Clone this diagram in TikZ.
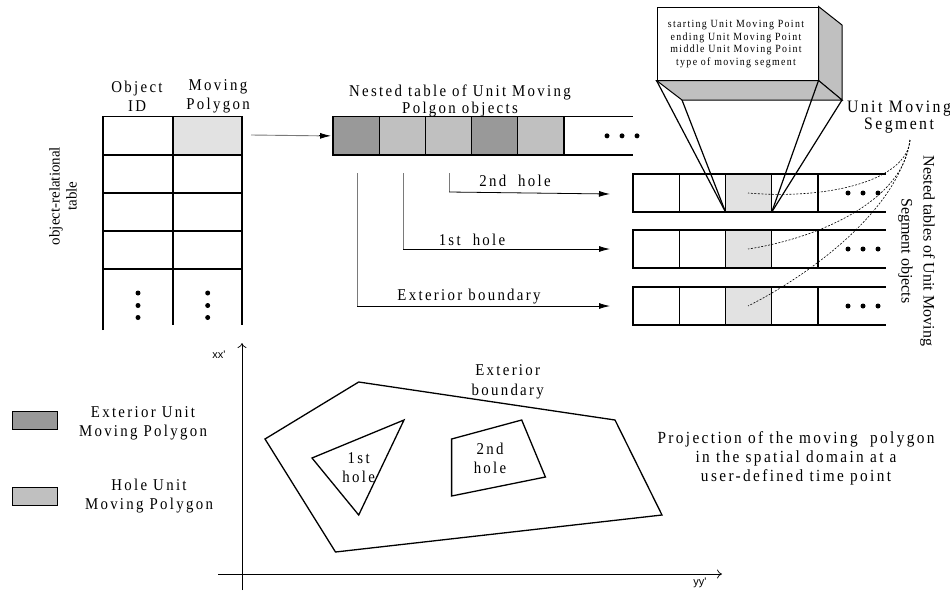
\documentclass[tikz,border=0pt]{standalone}
\usepackage{fontspec}
\setmainfont{Liberation Serif}
\newfontfamily\spf[LetterSpace=14,FakeStretch=0.9]{Liberation Serif}
\newfontfamily\spfb[LetterSpace=14,FakeStretch=0.9]{Liberation Serif}
\newfontfamily\spfs[LetterSpace=12,FakeStretch=0.9]{Liberation Serif}
\newfontfamily\sansf{Liberation Sans}
\usetikzlibrary{arrows.meta}
\definecolor{darkg}{HTML}{999999}
\definecolor{lightg}{HTML}{C0C0C0}
\definecolor{paleg}{HTML}{E2E2E2}
\definecolor{lineg}{HTML}{7A7A7A}
\begin{document}
\begin{tikzpicture}[x=1pt,y=-1pt,
  tbl/.style={line width=1.1pt},
  ncell/.style={draw, line width=1.1pt, minimum width=46.2pt, minimum height=38.3pt, inner sep=0pt, outer sep=0pt},
  rcell/.style={draw, line width=1.1pt, minimum width=46.25pt, minimum height=38pt, inner sep=0pt, outer sep=0pt},
  lbl/.style={font=\spf\fontsize{16.5}{19}\selectfont, align=center, inner sep=0pt},
  small/.style={font=\spfs\fontsize{11}{12.8}\selectfont, align=center, inner sep=0pt},
  plain/.style={font=\fontsize{16}{22}\selectfont, align=center, inner sep=0pt},
  arr/.style={-{Latex[length=11pt,width=6pt]}, line width=0.8pt},
  axis/.style={-{To[length=5pt,width=9pt]}, line width=0.7pt},
  dotf/.style={fill=black, circle, inner sep=0pt, minimum size=5pt},
  dsh/.style={dashed, dash pattern=on 2pt off 1.5pt, line width=0.6pt},
  poly/.style={line width=1.3pt, line join=miter},
  legbox/.style={draw, line width=1pt, minimum width=45pt, minimum height=18pt, inner sep=0pt}
]
\useasboundingbox (0,0) rectangle (950,592);

% ---------- object-relational table ----------
\fill[paleg] (173,116.7) rectangle (242,155);
\draw[tbl] (103,330) -- (103,116.7) -- (242,116.7) -- (242,325);
\draw[tbl] (173,116.7) -- (173,325);
\foreach \y in {155,193,231,269} \draw[tbl] (103,\y) -- (242,\y);
\node[lbl] (hid) at (137,96.5) {Object\\ID};
\node[lbl] (hmp) at (218,96.5) {Moving\\Polygon};
\foreach \x/\n in {138/a,207.7/b} {
  \node[dotf] (d\n1) at (\x,293) {};
  \node[dotf] (d\n2) at (\x,305.5) {};
  \node[dotf] (d\n3) at (\x,317.5) {};
}
\node[plain, font=\fontsize{15}{17}\selectfont, rotate=90] (ortab) at (63,196) {object-relational\\table};

% ---------- nested table of unit moving polygons ----------
\node[lbl, font=\spf\fontsize{16.5}{17}\selectfont] (ntitle) at (460,100.5) {Nested table of Unit Moving\\Polgon objects};
\foreach \i/\c in {1/darkg,2/lightg,3/lightg,4/darkg,5/lightg}
  \node[ncell, fill=\c] (n\i) at ({333+46.2*(\i-0.5)},135.85) {};
\draw[tbl] (n5.north east) -- ++(69,0);
\draw[tbl] (n5.south east) -- ++(69,0);
\node[dotf] (nd1) at (607,135.85) {};
\node[dotf] (nd2) at (622,135.85) {};
\node[dotf] (nd3) at (637,135.85) {};

\coordinate (a0) at (251,135);
\draw[lineg, line width=0.9pt] (a0) -- ([xshift=-12pt]n1.west);
\draw[arr] ([xshift=-14pt]n1.west) -- ([xshift=-2pt]n1.west);

% ---------- nested tables of unit moving segments ----------
\foreach \r/\yy in {1/193,2/249,3/306} {
  \foreach \j in {1,2,3,4} {
    \ifnum\j=3
      \node[rcell, fill=paleg] (r\r\j) at ({633+46.25*(\j-0.5)},\yy) {};
    \else
      \node[rcell] (r\r\j) at ({633+46.25*(\j-0.5)},\yy) {};
    \fi
  }
  \draw[tbl] (r\r4.north east) -- ++(68,0);
  \draw[tbl] (r\r4.south east) -- ++(68,0);
  \node[dotf] (rd\r1) at (848,\yy) {};
  \node[dotf] (rd\r2) at (863,\yy) {};
  \node[dotf] (rd\r3) at (878,\yy) {};
}

% branch arrows
\coordinate (b1) at (357,173); \coordinate (c1) at (357,306);
\coordinate (b2) at (403,173); \coordinate (c2) at (403,249);
\coordinate (b3) at (449,173); \coordinate (c3) at (449,192);
\draw[lineg, line width=0.9pt] (b1) -- (c1);
\draw[lineg, line width=0.9pt] (b2) -- (c2);
\draw[lineg, line width=0.9pt] (b3) -- (c3);
\draw[arr] (c1) -- ([xshift=-23pt]r31.west);
\draw[arr] (c2) -- ([xshift=-23pt]r21.west);
\draw[arr] (c3) -- ([xshift=-23pt,yshift=-1pt]r11.west);
\node[lbl] (l2h) at (515,181) {2nd\ \ hole};
\node[lbl] (l1h) at (472,240) {1st\ \ hole};
\node[lbl] (lex) at (469,297) {Exterior boundary};

% 3D box
\node[draw, line width=1pt, fill=white, minimum width=161pt, minimum height=73pt, inner sep=0pt] (box) at (737.5,43.5) {};
\coordinate (bx1) at (842,25);
\coordinate (bx2) at (842,100);
\coordinate (bx3) at (682,100);
\draw[line width=1pt, fill=lightg] (box.north east) -- (bx1) -- (bx2) -- (box.south east) -- cycle;
\draw[line width=1pt, fill=lightg] (box.south west) -- (box.south east) -- (bx2) -- (bx3) -- cycle;
\node[small] (boxtxt) at (736,44) {starting Unit Moving Point\\ending Unit Moving Point\\middle Unit Moving Point\\type of moving segment};
\draw[line width=1.2pt] (box.south west) -- (r13.south west);
\draw[line width=1.2pt] (bx3) -- (r13.south west);
\draw[line width=1.2pt] (box.south east) -- (r13.south east);
\draw[line width=1.2pt] (bx2) -- (r13.south east);

% Unit Moving Segment label and dashed pointers
\node[lbl, font=\spf\fontsize{17.5}{17.5}\selectfont] (ums) at (899,117) {Unit Moving\\Segment};
\coordinate (up) at (910,140);
\coordinate (m1) at (748,193);
\coordinate (m2) at (748,249);
\coordinate (m3) at (748,306);
\draw[dsh] (up) .. controls (907,180) and (830,200) .. (m1);
\draw[dsh] (up) .. controls (904,200) and (820,238) .. (m2);
\draw[dsh] (up) .. controls (897,215) and (800,280) .. (m3);
\node[plain, rotate=-90] (ntl) at (916.5,251) {Nested tables of Unit Moving\\Segment objects};

% ---------- legend ----------
\node[legbox, fill=darkg] (lg1) at (34.5,420) {};
\node[legbox, fill=lightg] (lg2) at (34.5,496) {};
\node[lbl] (lgt1) at (143,423.5) {Exterior Unit\\Moving Polygon};
\node[lbl] (lgt2) at (149,496) {Hole Unit\\Moving Polygon};

% ---------- spatial projection ----------
\coordinate (ax0) at (242,590); \coordinate (ax1) at (242,343);
\coordinate (ay0) at (218,574); \coordinate (ay1) at (722,574);
\draw[axis] (ax0) -- (ax1);
\draw[axis] (ay0) -- (ay1);
\node[font=\sansf\fontsize{11}{12}\selectfont, inner sep=0pt] (xx) at (219,355) {xx'};
\node[font=\sansf\fontsize{11}{12}\selectfont, inner sep=0pt] (yy) at (700,583) {yy'};

\draw[poly] (358.7,382) -- (615,420) -- (662,515) -- (335.5,552) -- (265,439) -- cycle;
\draw[poly] (312,458) -- (404,420) -- (358.7,515) -- cycle;
\draw[poly] (451.6,439) -- (521.7,420) -- (545.4,477) -- (451.6,496) -- cycle;
\node[lbl] (h1) at (358.7,467.5) {1st\\hole};
\node[lbl] (h2) at (490,458) {2nd\\hole};
\node[lbl, font=\spf\fontsize{16.5}{20}\selectfont] (eb) at (507.7,382) {Exterior\\boundary};
\node[lbl, font=\spfb\fontsize{17}{19}\selectfont] (proj) at (796,458) {Projection of the moving\ \ polygon\\in the spatial domain at a\\user-defined time point};
\end{tikzpicture}
\end{document}
